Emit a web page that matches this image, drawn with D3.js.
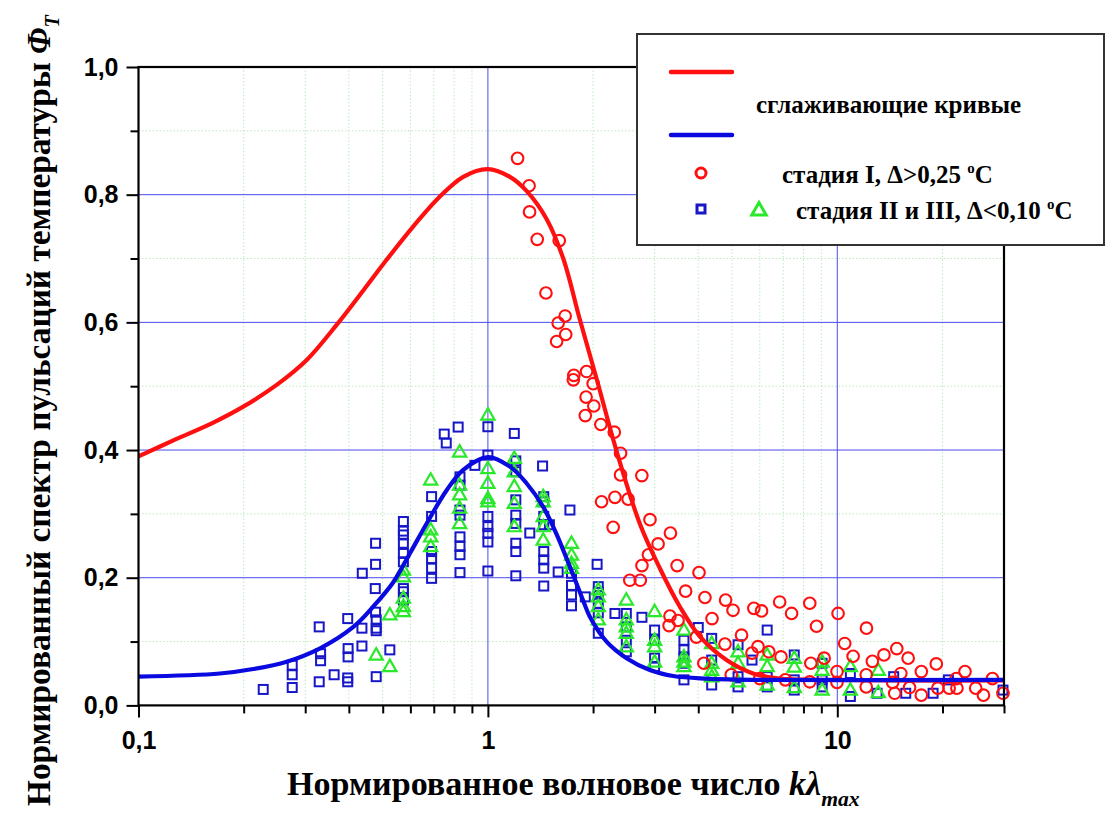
<!DOCTYPE html>
<html>
<head>
<meta charset="utf-8">
<script src="https://cdn.jsdelivr.net/npm/d3@7"></script>
<style>
  body { margin: 0; background: #fff; }
  svg { display: block; }
</style>
</head>
<body>
<svg id="chart" width="1106" height="817"></svg>
<script>
// Smoothing curves, [kλmax, Φ_T]
const redCurve = [
  [0.1, 0.390], [0.1258, 0.415], [0.1637, 0.443], [0.1995, 0.468], [0.2486, 0.502],
  [0.303, 0.541], [0.369, 0.596], [0.44, 0.650], [0.513, 0.698], [0.611, 0.750],
  [0.729, 0.797], [0.85, 0.828], [1.0, 0.840], [1.156, 0.828], [1.29, 0.806],
  [1.472, 0.762], [1.643, 0.700], [1.834, 0.604], [2.046, 0.512], [2.33, 0.400],
  [2.72, 0.285], [3.11, 0.214], [3.54, 0.155], [4.04, 0.108], [4.82, 0.071],
  [5.74, 0.050], [6.84, 0.042], [9.0, 0.040], [15, 0.039], [30, 0.039]
];
const blueCurve = [
  [0.1, 0.045], [0.171, 0.050], [0.213, 0.057], [0.2655, 0.0685], [0.331, 0.0895],
  [0.412, 0.123], [0.470, 0.155], [0.536, 0.193], [0.598, 0.238], [0.668, 0.285],
  [0.762, 0.337], [0.85, 0.369], [1.0, 0.389], [1.156, 0.374], [1.29, 0.348],
  [1.44, 0.311], [1.573, 0.268], [1.717, 0.217], [1.874, 0.164], [1.958, 0.139],
  [2.186, 0.100], [2.494, 0.074], [2.908, 0.0554], [3.39, 0.046], [4.23, 0.042],
  [6.0, 0.040], [30, 0.040]
];

// Stage I measurements (Δ > 0.25 °C)
const stage1 = [
  [1.216, 0.857], [1.312, 0.814], [1.316, 0.773], [1.384, 0.730], [1.600, 0.728],
  [1.466, 0.646], [1.664, 0.610], [1.589, 0.599], [1.67, 0.581], [1.573, 0.570],
  [1.762, 0.517], [1.756, 0.510], [1.916, 0.523], [2.001, 0.504], [1.91, 0.483],
  [2.01, 0.469], [1.90, 0.454], [2.105, 0.440], [2.30, 0.428], [2.397, 0.395],
  [2.397, 0.361], [2.758, 0.360], [2.115, 0.319], [2.31, 0.326], [2.52, 0.323],
  [2.283, 0.279], [2.91, 0.291], [3.07, 0.253], [3.33, 0.270], [2.88, 0.236],
  [2.76, 0.219], [2.548, 0.196], [2.73, 0.196], [3.48, 0.219], [4.02, 0.208],
  [3.68, 0.179], [4.18, 0.169], [4.79, 0.165], [5.03, 0.149], [5.77, 0.152],
  [6.07, 0.148], [6.84, 0.162], [3.32, 0.140], [3.50, 0.133], [3.30, 0.125],
  [4.38, 0.136], [5.32, 0.110], [4.77, 0.096], [3.95, 0.107], [5.93, 0.092],
  [5.70, 0.082], [6.37, 0.084], [4.15, 0.066], [4.97, 0.048], [7.40, 0.144],
  [8.34, 0.160], [8.72, 0.124], [10.05, 0.144], [12.12, 0.121], [10.5, 0.097],
  [11.1, 0.077], [14.8, 0.089], [15.95, 0.074], [13.6, 0.079], [12.6, 0.069],
  [19.2, 0.065], [23.2, 0.053], [27.8, 0.042], [17.4, 0.053], [15.2, 0.050],
  [14.4, 0.036], [12.1, 0.048], [12.1, 0.029], [14.6, 0.019], [16.1, 0.028],
  [17.4, 0.016], [19.4, 0.027], [20.9, 0.027], [22.0, 0.027], [21.9, 0.042],
  [24.9, 0.027], [26.2, 0.016], [29.8, 0.019], [9.98, 0.053], [9.98, 0.036],
  [8.4, 0.066], [9.17, 0.074], [6.9, 0.076], [6.0, 0.042], [7.1, 0.040], [8.34, 0.037]
];

// Stage II and III measurements (Δ < 0.10 °C), square markers
const stage23Squares = [
  [0.2275, 0.025], [0.2754, 0.063], [0.2754, 0.048], [0.2754, 0.028],
  [0.329, 0.123], [0.332, 0.081], [0.332, 0.070], [0.329, 0.037], [0.363, 0.048],
  [0.397, 0.136], [0.398, 0.089], [0.398, 0.076], [0.397, 0.043], [0.397, 0.037],
  [0.437, 0.207], [0.436, 0.121], [0.436, 0.093],
  [0.477, 0.254], [0.477, 0.221], [0.476, 0.183], [0.477, 0.146], [0.479, 0.134],
  [0.479, 0.121], [0.479, 0.117], [0.479, 0.045], [0.524, 0.087],
  [0.573, 0.288], [0.573, 0.273], [0.573, 0.267], [0.573, 0.254], [0.573, 0.238],
  [0.573, 0.225], [0.573, 0.183], [0.573, 0.178], [0.573, 0.165],
  [0.690, 0.327], [0.690, 0.296], [0.690, 0.241], [0.690, 0.230], [0.690, 0.215], [0.690, 0.199],
  [0.75, 0.425], [0.76, 0.411], [0.822, 0.436],
  [0.832, 0.358], [0.832, 0.345], [0.832, 0.306], [0.832, 0.298], [0.832, 0.264],
  [0.832, 0.249], [0.832, 0.236], [0.832, 0.208],
  [0.918, 0.376],
  [1.0, 0.4365], [1.0, 0.392], [1.0, 0.296], [1.0, 0.280], [1.0, 0.2695], [1.0, 0.256], [1.0, 0.2105],
  [1.19, 0.426],
  [1.202, 0.383], [1.202, 0.366], [1.202, 0.322], [1.202, 0.298], [1.202, 0.285],
  [1.202, 0.254], [1.202, 0.241], [1.202, 0.203],
  [1.318, 0.270], [1.434, 0.375],
  [1.445, 0.327], [1.445, 0.319], [1.445, 0.296], [1.445, 0.283], [1.445, 0.241],
  [1.445, 0.228], [1.445, 0.215], [1.445, 0.187],
  [1.50, 0.283], [1.589, 0.209], [1.717, 0.306],
  [1.735, 0.207], [1.735, 0.188], [1.735, 0.173], [1.735, 0.156],
  [1.90, 0.170], [2.054, 0.221],
  [2.07, 0.186], [2.07, 0.177], [2.07, 0.160], [2.07, 0.145], [2.07, 0.113],
  [2.31, 0.144],
  [2.49, 0.144], [2.49, 0.123], [2.49, 0.102], [2.49, 0.084],
  [2.76, 0.138],
  [3.0, 0.118], [3.0, 0.102], [3.0, 0.074], [3.0, 0.061],
  [3.64, 0.102], [3.64, 0.087], [3.64, 0.076], [3.64, 0.066], [3.64, 0.040],
  [4.0, 0.122],
  [4.37, 0.105], [4.37, 0.071], [4.37, 0.032],
  [5.2, 0.095], [5.2, 0.045], [5.2, 0.029],
  [5.7, 0.071], [6.3, 0.118], [6.3, 0.045], [6.3, 0.029],
  [7.53, 0.079], [7.53, 0.040], [7.53, 0.024],
  [9.05, 0.066], [9.05, 0.040], [9.05, 0.029],
  [10.9, 0.050], [10.9, 0.014],
  [13.0, 0.019], [14.5, 0.045], [15.7, 0.019], [18.8, 0.019], [20.8, 0.040], [29.8, 0.024]
];

// Stage II and III measurements (Δ < 0.10 °C), triangle markers
const stage23Triangles = [
  [0.479, 0.079], [0.524, 0.061], [0.524, 0.142],
  [0.573, 0.212], [0.573, 0.2015], [0.573, 0.168], [0.573, 0.155], [0.573, 0.147],
  [0.686, 0.353], [0.686, 0.275], [0.686, 0.264], [0.686, 0.249],
  [0.83, 0.397], [0.83, 0.345], [0.83, 0.330], [0.83, 0.309], [0.83, 0.285],
  [1.0, 0.455], [1.0, 0.371], [1.0, 0.348], [1.0, 0.324], [1.0, 0.319],
  [1.19, 0.387], [1.19, 0.366], [1.19, 0.343], [1.19, 0.3165], [1.19, 0.280],
  [1.44, 0.327], [1.44, 0.319], [1.44, 0.296], [1.44, 0.280], [1.44, 0.259],
  [1.735, 0.254], [1.735, 0.2355], [1.735, 0.2225], [1.735, 0.2147],
  [2.07, 0.181], [2.07, 0.170], [2.07, 0.155], [2.07, 0.134],
  [2.49, 0.165], [2.49, 0.134], [2.49, 0.123], [2.49, 0.113], [2.49, 0.092],
  [3.0, 0.147], [3.0, 0.102], [3.0, 0.092], [3.0, 0.068],
  [3.64, 0.118], [3.64, 0.076], [3.64, 0.068], [3.64, 0.061],
  [4.37, 0.097], [4.37, 0.066], [4.37, 0.055], [4.37, 0.045],
  [5.2, 0.084], [5.2, 0.066], [5.2, 0.037],
  [6.3, 0.079], [6.3, 0.061], [6.3, 0.032],
  [7.53, 0.074], [7.53, 0.060], [7.53, 0.028],
  [9.05, 0.068], [9.05, 0.055], [9.05, 0.024],
  [10.9, 0.061], [10.9, 0.024],
  [13.1, 0.055], [13.1, 0.020]
];

// Axis ticks
const xMajorTicks = [0.1, 1, 10];
const xTickLabels = ["0,1", "1", "10"];
const xMinorTicks = [0.2, 0.3, 0.4, 0.5, 0.6, 0.7, 0.8, 0.9, 2, 3, 4, 5, 6, 7, 8, 9, 20, 30];
const yMajorTicks = [0, 0.2, 0.4, 0.6, 0.8, 1.0];
const yTickLabels = ["0,0", "0,2", "0,4", "0,6", "0,8", "1,0"];
const yMinorTicks = [0.1, 0.3, 0.5, 0.7, 0.9];

const svg = d3.select("#chart");
const pL = 138.5, pR = 1004, pT = 67, pB = 705.4;

const x = d3.scaleLog().domain([0.1, 30]).range([pL, pR]);
const y = d3.scaleLinear().domain([0, 1]).range([pB, pT]);

const RED = "#ff1010", BLUE = "#0a0ae0", SQ = "#1717c8", GREEN = "#2ae82a";

// Grid
const grid = svg.append("g");
grid.selectAll(".gxm").data(xMinorTicks.filter(v => v < 30)).join("line")
  .attr("x1", d => x(d)).attr("x2", d => x(d)).attr("y1", pT).attr("y2", pB)
  .attr("stroke", "#bfe9bf").attr("stroke-width", 1).attr("stroke-dasharray", "1.5,2");
grid.selectAll(".gym").data(yMinorTicks).join("line")
  .attr("x1", pL).attr("x2", pR).attr("y1", d => y(d)).attr("y2", d => y(d))
  .attr("stroke", "#bfe9bf").attr("stroke-width", 1).attr("stroke-dasharray", "1.5,2");
grid.selectAll(".gxM").data([1, 10]).join("line")
  .attr("x1", d => x(d)).attr("x2", d => x(d)).attr("y1", pT).attr("y2", pB)
  .attr("stroke", "#4a4af0").attr("stroke-width", 1);
grid.selectAll(".gyM").data([0.2, 0.4, 0.6, 0.8]).join("line")
  .attr("x1", pL).attr("x2", pR).attr("y1", d => y(d)).attr("y2", d => y(d))
  .attr("stroke", "#4a4af0").attr("stroke-width", 1);

// Axes
const axisFont = "'Liberation Sans', Arial, sans-serif";
const xMinorAxis = svg.append("g").attr("transform", `translate(0,${pB})`)
  .call(d3.axisBottom(x).tickValues(xMinorTicks).tickSize(8).tickFormat(""));
const xMajorAxis = svg.append("g").attr("transform", `translate(0,${pB})`)
  .call(d3.axisBottom(x).tickValues(xMajorTicks).tickSize(12).tickPadding(14)
    .tickFormat((d, i) => xTickLabels[i]));
const yMinorAxis = svg.append("g").attr("transform", `translate(${pL},0)`)
  .call(d3.axisLeft(y).tickValues(yMinorTicks).tickSize(8).tickFormat(""));
const yMajorAxis = svg.append("g").attr("transform", `translate(${pL},0)`)
  .call(d3.axisLeft(y).tickValues(yMajorTicks).tickSize(12).tickPadding(8)
    .tickFormat((d, i) => yTickLabels[i]));
[xMinorAxis, xMajorAxis, yMinorAxis, yMajorAxis].forEach(g => {
  g.select(".domain").remove();
  g.selectAll(".tick line").attr("stroke", "#000").attr("stroke-width", 2);
  g.selectAll(".tick text").attr("fill", "#000")
    .style("font-family", axisFont).style("font-weight", "bold").style("font-size", "25px");
});

// Markers
const sq = 9;
svg.append("g").selectAll("rect").data(stage23Squares).join("rect")
  .attr("x", d => x(d[0]) - sq / 2).attr("y", d => y(d[1]) - sq / 2)
  .attr("width", sq).attr("height", sq)
  .attr("fill", "none").attr("stroke", SQ).attr("stroke-width", 2);

const tri = (cx, cy, s) => `M${cx},${cy - s * 0.62}L${cx + s * 0.6},${cy + s * 0.42}L${cx - s * 0.6},${cy + s * 0.42}Z`;
svg.append("g").selectAll("path").data(stage23Triangles).join("path")
  .attr("d", d => tri(x(d[0]), y(d[1]), 11))
  .attr("fill", "none").attr("stroke", GREEN).attr("stroke-width", 2.2).attr("stroke-linejoin", "miter");

svg.append("g").selectAll("circle").data(stage1).join("circle")
  .attr("cx", d => x(d[0])).attr("cy", d => y(d[1])).attr("r", 5.8)
  .attr("fill", "none").attr("stroke", RED).attr("stroke-width", 2.1);

// Smoothing curves
const line = d3.line().x(d => x(d[0])).y(d => y(d[1])).curve(d3.curveCatmullRom.alpha(0.5));
svg.append("path").datum(redCurve).attr("d", line)
  .attr("fill", "none").attr("stroke", RED).attr("stroke-width", 4.2);
svg.append("path").datum(blueCurve).attr("d", line)
  .attr("fill", "none").attr("stroke", BLUE).attr("stroke-width", 4.2);

// Frame
svg.append("rect").attr("x", pL).attr("y", pT)
  .attr("width", pR - pL).attr("height", pB - pT)
  .attr("fill", "none").attr("stroke", "#000").attr("stroke-width", 2.2);

// Axis titles (condensed serif)
const serif = "'Liberation Serif', 'Times New Roman', serif";
const xTitle = svg.append("text")
  .style("font-family", serif).style("font-weight", "bold").style("font-size", "33px").attr("fill", "#000");
xTitle.append("tspan").text("Нормированное волновое число ");
xTitle.append("tspan").style("font-style", "italic").text("kλ");
xTitle.append("tspan").style("font-style", "italic").style("font-size", "21px").attr("dy", 11).text("max");
const xw = xTitle.node().getBBox().width;
xTitle.attr("transform", `translate(287,795) scale(${573 / xw},1)`);

const yTitle = svg.append("text")
  .style("font-family", serif).style("font-weight", "bold").style("font-size", "33px").attr("fill", "#000");
yTitle.append("tspan").text("Нормированный спектр пульсаций температуры ");
yTitle.append("tspan").style("font-style", "italic").text("Φ");
yTitle.append("tspan").style("font-style", "italic").style("font-size", "20px").attr("dy", 9).text("T");
const yw = yTitle.node().getBBox().width;
yTitle.attr("transform", `translate(50,806) rotate(-90) scale(${792 / yw},1)`);

// Legend
const lg = svg.append("g");
lg.append("rect").attr("x", 637).attr("y", 34).attr("width", 467).attr("height", 211)
  .attr("fill", "#fff").attr("stroke", "#333").attr("stroke-width", 2);
lg.append("line").attr("x1", 671).attr("x2", 732).attr("y1", 72).attr("y2", 72)
  .attr("stroke", RED).attr("stroke-width", 4.5).attr("stroke-linecap", "round");
lg.append("line").attr("x1", 671).attr("x2", 732).attr("y1", 135).attr("y2", 135)
  .attr("stroke", BLUE).attr("stroke-width", 4.5).attr("stroke-linecap", "round");
lg.append("circle").attr("cx", 701).attr("cy", 173).attr("r", 5)
  .attr("fill", "none").attr("stroke", RED).attr("stroke-width", 3);
lg.append("rect").attr("x", 697).attr("y", 205).attr("width", 8).attr("height", 8)
  .attr("fill", "none").attr("stroke", SQ).attr("stroke-width", 3);
lg.append("path").attr("d", tri(759, 210, 12))
  .attr("fill", "none").attr("stroke", GREEN).attr("stroke-width", 3);

const legText = (xx, yy) => lg.append("text").attr("x", xx).attr("y", yy)
  .style("font-family", serif).style("font-weight", "bold").style("font-size", "25px").attr("fill", "#000");
legText(756, 113).text("сглаживающие кривые");
const t1 = legText(782, 183);
t1.append("tspan").text("стадия I, Δ>0,25 ");
t1.append("tspan").style("font-size", "15px").attr("dy", -10).text("o");
t1.append("tspan").attr("dy", 10).text("C");
const t2 = legText(796, 219);
t2.append("tspan").text("стадия II и III, Δ<0,10 ");
t2.append("tspan").style("font-size", "15px").attr("dy", -10).text("o");
t2.append("tspan").attr("dy", 10).text("C");
</script>
</body>
</html>
